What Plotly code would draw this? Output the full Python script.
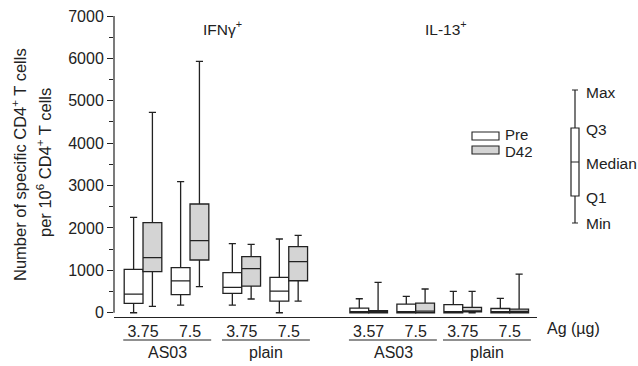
import plotly.graph_objects as go

# ---------------- data ----------------
tick_labels = ["3.75", "7.5", "3.75", "7.5", "3.57", "7.5", "3.75", "7.5"]
slot_pos = [0, 1, 2.1, 3.1, 4.8, 5.8, 6.8, 7.8]   # category slots on the x axis
groups = ["AS03", "plain", "AS03", "plain"]
panels = ["IFNγ<sup>+</sup>", "IL-13<sup>+</sup>"]

pre_min = [0, 180, 180, 0, 0, 0, 0, 0]
pre_q1 = [220, 430, 455, 275, 0, 0, 0, 0]
pre_med = [440, 750, 600, 510, 20, 25, 20, 25]
pre_q3 = [1025, 1065, 945, 835, 110, 205, 190, 100]
pre_max = [2250, 3095, 1630, 1740, 330, 385, 505, 340]

d42_min = [150, 615, 325, 275, 0, 0, 0, 0]
d42_q1 = [970, 1245, 630, 755, 0, 0, 20, 0]
d42_med = [1300, 1700, 1040, 1205, 15, 40, 40, 30]
d42_q3 = [2125, 2565, 1325, 1560, 50, 225, 125, 85]
d42_max = [4725, 5930, 1615, 1825, 715, 560, 505, 910]

key_vals = {"Min": 94, "Q1": 121, "Median": 155, "Q3": 189, "Max": 227}

# ---------------- layout helpers ----------------
W, H = 638, 366
L, R, T, B = 114, 0, 16, 49
PW, PH = W - L - R, H - T - B
FONT = "Liberation Sans, Arial, sans-serif"
LINE = "#222222"
FS = 16


def px(xp):
    return (xp - L) / PW


def py(yp):
    return (H - B - yp) / PH


fig = go.Figure()
fig.add_trace(go.Box(
    name="Pre", x=slot_pos, q1=pre_q1, median=pre_med, q3=pre_q3,
    lowerfence=pre_min, upperfence=pre_max, boxpoints=False,
    alignmentgroup="main", offsetgroup="pre",
    fillcolor="white", line=dict(color=LINE, width=1.3), whiskerwidth=0.38,
    showlegend=False, hoverinfo="skip"))
fig.add_trace(go.Box(
    name="D42", x=slot_pos, q1=d42_q1, median=d42_med, q3=d42_q3,
    lowerfence=d42_min, upperfence=d42_max, boxpoints=False,
    alignmentgroup="main", offsetgroup="d42",
    fillcolor="#d4d4d4", line=dict(color=LINE, width=1.3), whiskerwidth=0.38,
    showlegend=False, hoverinfo="skip"))

# key box
fig.add_trace(go.Box(
    x=[0], q1=[key_vals["Q1"]], median=[key_vals["Median"]], q3=[key_vals["Q3"]],
    lowerfence=[key_vals["Min"]], upperfence=[key_vals["Max"]], boxpoints=False,
    alignmentgroup="key", offsetgroup="key",
    width=0.8, fillcolor="white", line=dict(color=LINE, width=1.2), whiskerwidth=0.75,
    xaxis="x2", yaxis="y2", showlegend=False, hoverinfo="skip"))

main_right = px(537)
fig.update_layout(
    width=W, height=H, margin=dict(l=L, r=R, t=T, b=B),
    paper_bgcolor="white", plot_bgcolor="white",
    boxmode="group", boxgap=0.2, boxgroupgap=0,
    font=dict(family=FONT, size=FS, color="#222"),
    xaxis=dict(domain=[0, main_right], range=[-0.617, 8.38],
               tickvals=slot_pos, ticktext=tick_labels, ticks="",
               showline=True, linecolor=LINE, linewidth=1.2, showgrid=False,
               zeroline=False, tickfont=dict(size=FS)),
    yaxis=dict(range=[-100, 7000], tickvals=list(range(0, 7001, 1000)),
               ticks="outside", ticklen=6, tickcolor=LINE, showline=False,
               showgrid=False, zeroline=False, tickfont=dict(size=FS),
               minor=dict(dtick=500, ticks="outside", ticklen=4, tickcolor=LINE)),
    xaxis2=dict(domain=[px(565), px(585)], range=[-1, 1], visible=False,
                anchor="y2"),
    yaxis2=dict(domain=[0, 1], range=[0, PH], visible=False, anchor="x2",
                overlaying="y"),
)

shapes = [
    dict(type="line", xref="paper", yref="y", x0=0, x1=0, y0=0, y1=7000,
         line=dict(color=LINE, width=1.2)),
]
annotations = []

# group underlines and labels
for gi, g in enumerate(groups):
    a, b = slot_pos[2 * gi], slot_pos[2 * gi + 1]
    shapes.append(dict(type="line", xref="x", yref="paper", x0=a - 0.42, x1=b + 0.45,
                       y0=py(340), y1=py(340), line=dict(color=LINE, width=1.1)))
    annotations.append(dict(xref="x", yref="paper", x=(a + b) / 2 + 0.02, y=py(353),
                            text=g, showarrow=False, xanchor="center", yanchor="middle",
                            font=dict(size=FS)))

# panel titles
for pi, ptxt in enumerate(panels):
    sl = slot_pos[4 * pi:4 * pi + 4]
    annotations.append(dict(xref="x", yref="paper", x=(sl[0] + sl[-1]) / 2 + 0.15,
                            y=py(28), text=ptxt, showarrow=False,
                            xanchor="center", yanchor="middle", font=dict(size=15.5)))

annotations.append(dict(xref="paper", yref="paper", x=px(545), y=py(328),
                        text="Ag (µg)", showarrow=False, xanchor="left",
                        yanchor="middle", font=dict(size=FS)))

# y-axis title (two lines)
annotations.append(dict(xref="paper", yref="paper", x=px(19), y=py(165),
                        text="Number of specific CD4<sup>+</sup> T cells",
                        textangle=-90, showarrow=False, xanchor="center",
                        yanchor="middle", font=dict(size=16.5)))
annotations.append(dict(xref="paper", yref="paper", x=px(44), y=py(163),
                        text="per 10<sup>6</sup> CD4<sup>+</sup> T cells",
                        textangle=-90, showarrow=False, xanchor="center",
                        yanchor="middle", font=dict(size=16.5)))

# legend (Pre / D42)
for name, fill, y0, y1, ty in [("Pre", "white", 132, 140, 134),
                               ("D42", "#d4d4d4", 146, 154, 151)]:
    shapes.append(dict(type="rect", xref="paper", yref="paper",
                       x0=px(472), x1=px(499), y0=py(y1), y1=py(y0),
                       fillcolor=fill, line=dict(color=LINE, width=1.1)))
    annotations.append(dict(xref="paper", yref="paper", x=px(503), y=py(ty),
                            text=name, showarrow=False, xanchor="left",
                            yanchor="middle", font=dict(size=15),
                            height=14, valign="middle"))

# key labels
for k, v in key_vals.items():
    off = {"Max": 2, "Q3": 1, "Median": 1, "Q1": 1, "Min": 0}[k]
    annotations.append(dict(xref="paper", yref="y2", x=px(584), y=v - off,
                            text=k, showarrow=False, xanchor="left",
                            yanchor="middle", font=dict(size=15.5)))

fig.update_layout(shapes=shapes, annotations=annotations)
fig.write_html("out.html")
